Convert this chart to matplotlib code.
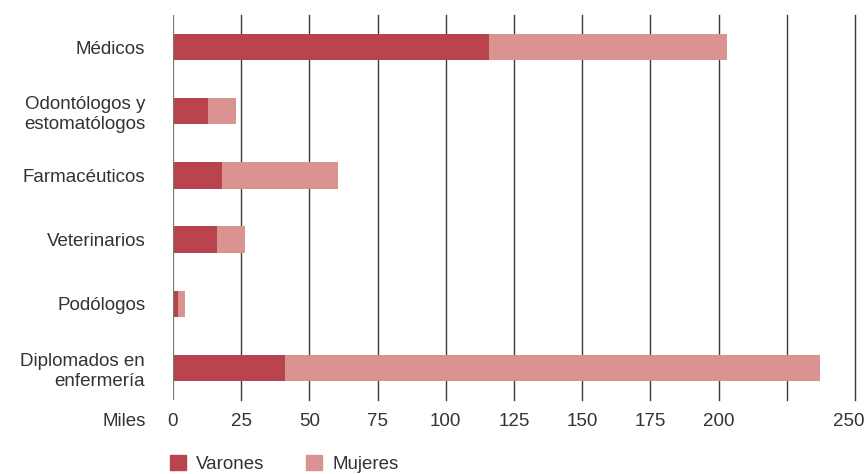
import matplotlib.pyplot as plt
from matplotlib.patches import Patch
from matplotlib.transforms import ScaledTranslation

categories = ["Médicos", "Odontólogos y\nestomatólogos", "Farmacéuticos",
              "Veterinarios", "Podólogos", "Diplomados en\nenfermería"]
varones = [116, 13, 18, 16, 2, 41]
mujeres = [87, 10, 42.5, 10.5, 2.5, 196]
xticks = [0, 25, 50, 75, 100, 125, 150, 175, 200, 225, 250]
xticklabels = ["0", "25", "50", "75", "100", "125", "150", "175", "200", "", "250"]

c_var, c_muj, txt = "#B9444E", "#D99491", "#333333"
plt.rcParams["font.family"] = ["Liberation Sans", "DejaVu Sans"]
fs = 13.5

fig = plt.figure(figsize=(8.66, 4.74), dpi=100)
ax = fig.add_axes([173/866, 74/474, 682/866, 385/474])
y = list(range(len(categories)))
ax.barh(y, varones, height=0.41, color=c_var, zorder=3)
ax.barh(y, mujeres, left=varones, height=0.41, color=c_muj, zorder=3)
ax.set_ylim(5.5, -0.5); ax.set_xlim(0, 250)
ax.set_yticks(y, categories, fontsize=fs, color=txt)
for t in ax.get_yticklabels(): t.set_multialignment("right")
ax.set_xticks(xticks, xticklabels, fontsize=fs, color=txt)
ax.tick_params(length=0, pad=9)
ax.tick_params(axis="y", pad=20)
for x in xticks[1:]:
    ax.axvline(x, color="#3a3a3a", lw=1.0, zorder=1, clip_on=False)
ax.axvline(0, color="#777777", lw=1.6, zorder=4)
for s in ax.spines.values(): s.set_visible(False)
last = ax.get_xticklabels()[-1]
last.set_transform(last.get_transform() + ScaledTranslation(-6/100, 0, fig.dpi_scale_trans))
fig.text(146/866, 1-421/474, "Miles", ha="right", va="center", fontsize=fs, color=txt)

handles = [Patch(color=c_var, label="Varones"), Patch(color=c_muj, label="Mujeres")]
fig.legend(handles=handles, loc="upper left", bbox_to_anchor=(153/866, 1-438/474), ncol=2,
           frameon=False, fontsize=fs, handlelength=0.85, handleheight=0.85,
           handletextpad=0.55, columnspacing=2.2, labelcolor=txt)
fig.savefig("out.png", dpi=100)
